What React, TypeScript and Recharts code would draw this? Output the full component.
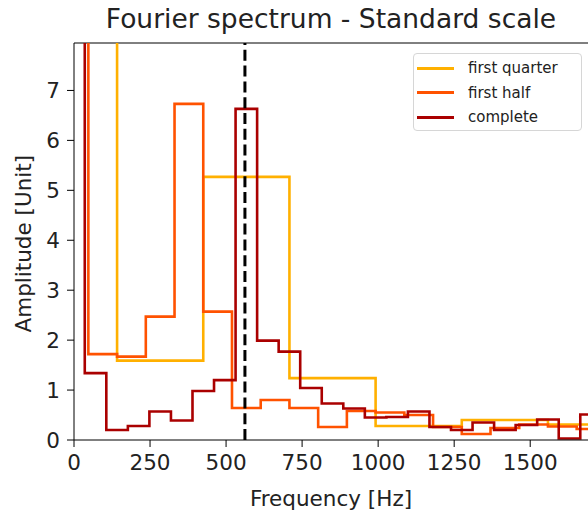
import { LineChart, Line, XAxis, YAxis, ReferenceLine } from 'recharts';

// frequency bins (Hz) for each window length
const FREQ_QUARTER = [0, 283.3, 566.7, 850, 1133.3, 1416.7, 1700];
const FREQ_HALF = [
  0, 94.4, 188.9, 283.3, 377.8, 472.2, 566.7, 661.1, 755.6, 850,
  944.4, 1038.9, 1133.3, 1227.8, 1322.2, 1416.7, 1511.1, 1605.6, 1700
];
const FREQ_COMPLETE = [
  0, 70.8, 141.7, 212.5, 283.3, 354.2, 425, 495.8, 566.7, 637.5, 708.3, 779.2,
  850, 920.8, 991.7, 1062.5, 1133.3, 1204.2, 1275, 1345.8, 1416.7, 1487.5,
  1558.3, 1629.2, 1700
];

// amplitudes
const AMP_QUARTER = [9.5, 1.59, 5.27, 1.24, 0.28, 0.4, 0.31];
const AMP_HALF = [
  11, 1.72, 1.67, 2.47, 6.73, 2.57, 0.64, 0.8, 0.64, 0.26,
  0.58, 0.55, 0.5, 0.26, 0.12, 0.24, 0.31, 0.27, 0.22
];
const AMP_COMPLETE = [
  14, 1.34, 0.2, 0.28, 0.57, 0.39, 0.98, 1.2, 6.63, 1.99, 1.77, 1.04,
  0.73, 0.63, 0.45, 0.46, 0.57, 0.26, 0.2, 0.35, 0.2, 0.3, 0.41, 0.03, 0.51
];

const X_TICKS = [0, 250, 500, 750, 1000, 1250, 1500];
const Y_TICKS = [0, 1, 2, 3, 4, 5, 6, 7];
const PEAK_FREQ = 562;
const Y_MAX = 7.95;
const X_MAX = 1690;

const SERIES = [
  { name: 'first quarter', color: '#ffb000', freqs: FREQ_QUARTER, amps: AMP_QUARTER },
  { name: 'first half', color: '#ff5200', freqs: FREQ_HALF, amps: AMP_HALF },
  { name: 'complete', color: '#aa0000', freqs: FREQ_COMPLETE, amps: AMP_COMPLETE }
];

const FONT = '"DejaVu Sans", sans-serif';
const TEXT = '#222';

// matplotlib-style legend box, top right of the axes
const SpectrumLegend = () => (
  <div
    style={{
      position: 'absolute',
      top: 53,
      left: 413,
      width: 169,
      height: 78,
      boxSizing: 'border-box',
      border: '1px solid #d6d6d6',
      borderRadius: 4,
      background: 'rgba(255,255,255,0.85)',
      paddingTop: 2,
      fontFamily: FONT,
      fontSize: 15,
      color: TEXT
    }}
  >
    {SERIES.map((s) => (
      <div key={s.name} style={{ display: 'flex', alignItems: 'center', height: 24.5 }}>
        <span style={{ width: 37, height: 2.6, background: s.color, marginLeft: 3, marginRight: 14 }} />
        <span>{s.name}</span>
      </div>
    ))}
  </div>
);

export default function App() {
  return (
    <div style={{ position: 'absolute', left: 0, top: 0, width: 588, height: 514, background: '#fff', overflow: 'hidden' }}>
      <div
        style={{
          position: 'absolute',
          top: 3,
          left: 74,
          width: 514,
          textAlign: 'center',
          fontFamily: FONT,
          fontSize: 26.5,
          color: TEXT
        }}
      >
        Fourier spectrum - Standard scale
      </div>
      <LineChart width={588} height={514} margin={{ top: 43, right: 0, left: 14, bottom: 4 }}>
        <XAxis
          type="number"
          dataKey="f"
          domain={[0, X_MAX]}
          allowDataOverflow
          ticks={X_TICKS}
          tickSize={7}
          tickMargin={8}
          height={70}
          stroke="#000"
          tick={{ fill: TEXT, fontSize: 21.5, fontFamily: FONT }}
          label={{ value: 'Frequency [Hz]', position: 'insideBottom', offset: 4, fill: TEXT, fontSize: 21.5, fontFamily: FONT }}
        />
        <YAxis
          type="number"
          domain={[0, Y_MAX]}
          allowDataOverflow
          ticks={Y_TICKS}
          tickSize={7}
          tickMargin={7}
          width={60}
          stroke="#000"
          tick={{ fill: TEXT, fontSize: 21.5, fontFamily: FONT }}
          label={{ value: 'Amplitude [Unit]', angle: -90, position: 'insideLeft', offset: 9, dy: 91, fill: TEXT, fontSize: 21.5, fontFamily: FONT }}
        />
        {/* top spine */}
        <ReferenceLine y={Y_MAX} stroke="#000" strokeWidth={1} />
        {SERIES.map((s) => (
          <Line
            key={s.name}
            name={s.name}
            data={s.freqs.map((f, i) => ({ f, a: s.amps[i] }))}
            dataKey="a"
            type="step"
            stroke={s.color}
            strokeWidth={2.6}
            dot={false}
            activeDot={false}
            isAnimationActive={false}
          />
        ))}
        <ReferenceLine x={PEAK_FREQ} stroke="#000" strokeWidth={3} strokeDasharray="11 4.8" />
      </LineChart>
      <SpectrumLegend />
    </div>
  );
}
